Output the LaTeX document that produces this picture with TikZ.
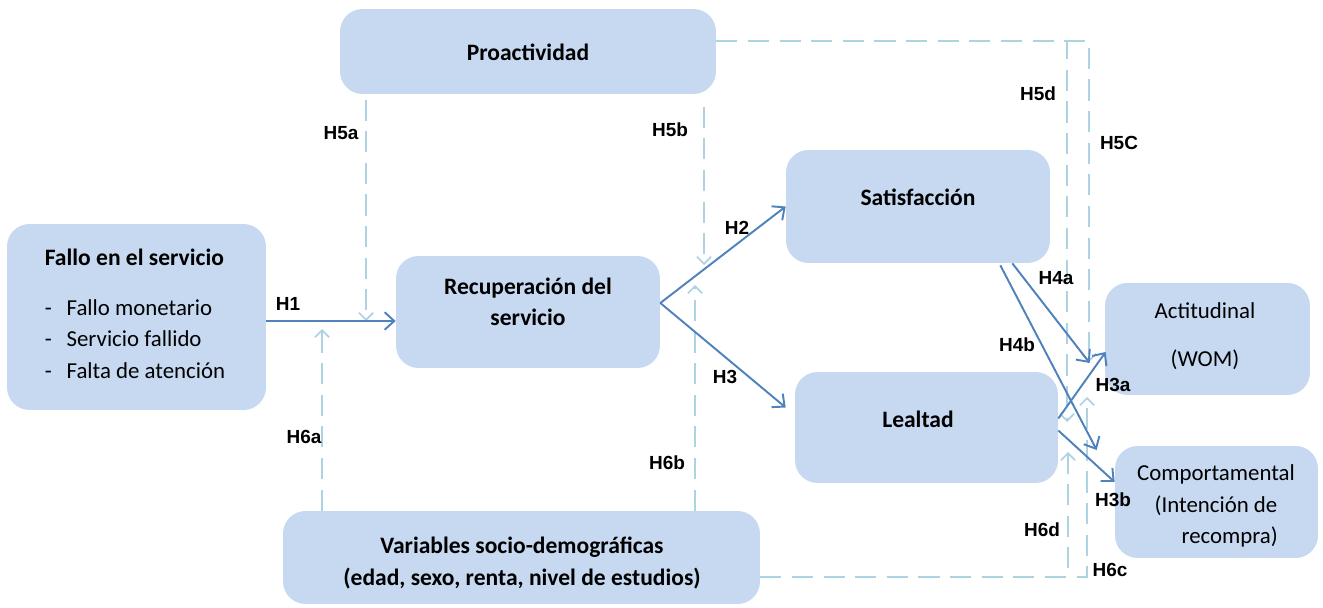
\documentclass[tikz,border=0pt]{standalone}
\usepackage{fontspec}
\setmainfont{Carlito}
\newfontfamily\arialfont{Liberation Sans}
\usetikzlibrary{arrows.meta}
\usetikzlibrary{calc}
\definecolor{boxblue}{HTML}{C6D9F1}
\definecolor{arrblue}{HTML}{4F81BD}
\definecolor{modblue}{HTML}{ADD2E2}
\tikzset{box/.style={fill=boxblue,rounded corners=0.45cm,inner sep=0pt}}
\tikzset{txt/.style={font=\fontsize{13}{18}\selectfont,align=center,inner sep=0pt}}
\tikzset{txtb/.style={txt,font=\fontsize{13.4}{18}\selectfont\bfseries}}
\tikzset{hl/.style={font=\arialfont\bfseries\fontsize{10.8}{12}\selectfont,inner sep=0pt}}
\tikzset{arr/.style={draw=arrblue,line width=1.1pt,-{Straight Barb[length=5.5pt,width=10pt]}}}
\tikzset{mod/.style={draw=modblue,line width=1pt,dash pattern=on 12pt off 6pt,-{Straight Barb[length=4pt,width=8pt]}}}

\begin{document}
\begin{tikzpicture}[x=0.02cm,y=-0.02cm]
  \useasboundingbox (0,0) rectangle (1323,608);
  % boxes
  \node[box,minimum width=5.18cm,minimum height=3.72cm] (fallo) at (136.5,317) {};
  \node[box,minimum width=7.52cm,minimum height=1.70cm] (proact) at (528,51.5) {};
  \node[box,minimum width=5.28cm,minimum height=2.24cm] (recup) at (528,312) {};
  \node[box,minimum width=5.28cm,minimum height=2.26cm] (satis) at (918,206.5) {};
  \node[box,minimum width=5.26cm,minimum height=2.22cm] (leal) at (926.5,427.5) {};
  \node[box,minimum width=4.10cm,minimum height=2.24cm] (acti) at (1207.5,339) {};
  \node[box,minimum width=4.06cm,minimum height=2.24cm] (comp) at (1216.5,502) {};
  \node[box,minimum width=9.54cm,minimum height=1.86cm] (varia) at (521.5,557.5) {};
  % texts
  \node[txt,align=left] (fallo-t) at (135,314) {\textbf{\fontsize{13.4}{18}\selectfont Fallo en el servicio}\\[10pt]
    -\hspace{0.65em}Fallo monetario\\-\hspace{0.65em}Servicio fallido\\-\hspace{0.65em}Falta de atención};
  \node[txtb] (proact-t) at (528,52) {Proactividad};
  \node[txtb] (recup-t) at (528,302) {Recuperación del\\servicio};
  \node[txtb] (satis-t) at (918,197) {Satisfacción};
  \node[txtb] (leal-t) at (918,419) {Lealtad};
  \node[txt] (acti-t) at (1205,336) {Actitudinal\\[9pt](WOM)};
  \node[txt] (comp-t) at (1216,506) {Comportamental\\(Intención de\\\hspace*{1.2em}recompra)};
  \node[txtb] (varia-t) at (522,563) {Variables socio-demográficas\\(edad, sexo, renta, nivel de estudios)};
  % moderating ends
  \coordinate (h5a) at (366,321);
  \coordinate (h6a) at (322,329);
  \coordinate (h5b) at (704,265);
  \coordinate (h6b) at (695,285);
  \coordinate (h5d) at (1067,422);
  \coordinate (h5c) at (1089,362);
  \coordinate (h6d) at (1068,452);
  \coordinate (h6c) at (1087,397);
  \coordinate (fork) at ($(recup.east)+(0,-9)$);
  % dashed
  \draw[mod,shorten <=3pt] (proact.south -| h5a) -- (h5a);
  \draw[mod] (varia.north -| h6a) -- (h6a);
  \draw[mod,shorten <=7pt] (proact.south -| h5b) -- (h5b);
  \draw[mod] (varia.north -| h6b) -- (h6b);
  \draw[mod] ([yshift=0.21cm]proact.east) -| (h5d);
  \draw[mod] ([yshift=0.21cm]proact.east) -| (h5c);
  \draw[mod] ([yshift=-0.39cm]varia.east) -| (h6d);
  \draw[mod] ([yshift=-0.39cm]varia.east) -| (h6c);
  % solid
  \draw[arr] (fallo.east |- h5a) -- (recup.west |- h5a);
  \draw[arr] (fork) -- (satis.west);
  \draw[arr] (fork) -- ($(leal.west)+(-9,-20)$);
  \draw[arr] ($(satis.south east)+(-38,0)$) -- ($(acti.west)+(-15,24)$);
  \draw[arr] ($(satis.south east)+(-50,2)$) -- ($(comp.west)+(-18,-52)$);
  \draw[arr] ($(leal.east)+(0,-9)$) -- ($(acti.west)+(1,13)$);
  \draw[arr] ($(leal.east)+(0,3)$) -- ($(comp.west)+(0,-20)$);
  % labels
  \node[hl] (l-h1) at (288,304) {H1};
  \node[hl] (l-h2) at (737,228) {H2};
  \node[hl] (l-h3) at (725,377) {H3};
  \node[hl] (l-h5a) at (341,133) {H5a};
  \node[hl] (l-h5b) at (670,130) {H5b};
  \node[hl] (l-h6a) at (304,437) {H6a};
  \node[hl] (l-h6b) at (667,463) {H6b};
  \node[hl] (l-h5d) at (1038,94) {H5d};
  \node[hl] (l-h5c) at (1119,143) {H5C};
  \node[hl] (l-h4a) at (1056,278) {H4a};
  \node[hl] (l-h4b) at (1017,345) {H4b};
  \node[hl] (l-h3a) at (1113,385) {H3a};
  \node[hl] (l-h3b) at (1113,500) {H3b};
  \node[hl] (l-h6d) at (1042,530) {H6d};
  \node[hl] (l-h6c) at (1110,570) {H6c};
\end{tikzpicture}
\end{document}
